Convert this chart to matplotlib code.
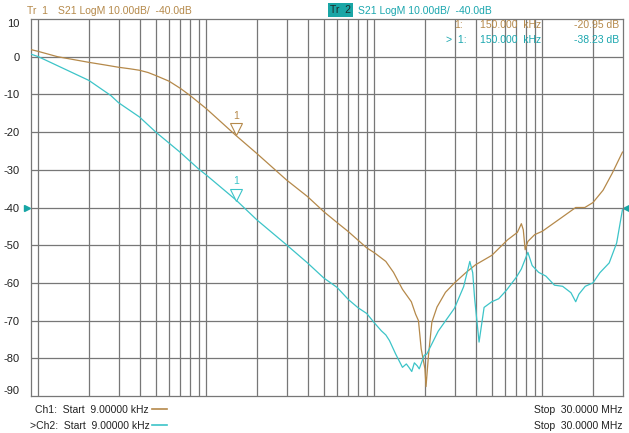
"""Nachbau einer VNA-Bildschirmkopie: S21 LogM, zwei Spuren."""

import matplotlib
matplotlib.use("Agg")
import matplotlib.pyplot as plt
import matplotlib.transforms as mtransforms

plt.rcParams["font.family"] = ["Liberation Sans", "DejaVu Sans"]

# Spur 1 (Tr1), Frequenz in Hz, Pegel in dB
tr1_freq = [9e3, 10e3, 13e3, 20e3, 25e3, 30e3, 35e3, 40e3, 45e3, 50e3, 60e3,
            70e3, 80e3, 100e3, 150e3, 200e3, 300e3, 400e3, 500e3, 600e3,
            700e3, 900e3, 1.0e6, 1.17e6, 1.3e6, 1.47e6, 1.66e6, 1.76e6,
            1.83e6, 1.9e6, 2.0e6, 2.03e6, 2.1e6, 2.2e6, 2.36e6, 2.65e6,
            3.0e6, 3.5e6, 4.0e6, 5.0e6, 6.2e6, 7.1e6, 7.5e6, 7.7e6, 7.9e6,
            8.2e6, 9.0e6, 10e6, 12.9e6, 15.8e6, 17.9e6, 20e6, 23e6, 26e6,
            30e6]
tr1_db = [1.9, 1.4, 0.0, -1.5, -2.2, -2.8, -3.2, -3.6, -4.2, -5.0, -6.5,
          -8.4, -10.3, -13.8, -20.9, -25.7, -32.7, -37.1, -41.1, -44.0,
          -46.4, -50.7, -52.0, -54.3, -57.2, -61.7, -65.0, -68.3,
          -70.0, -77.5, -82.8, -87.5, -79.2, -70.4, -66.4, -62.5,
          -60.0, -57.3, -55.2, -52.7, -48.6, -46.6, -44.3, -45.9, -51.2,
          -49.0, -47.2, -46.3, -42.8, -40.0, -40.0, -38.7, -35.4, -31.0,
          -25.3]

# Spur 2 (Tr2)
tr2_freq = [9e3, 10e3, 20e3, 27e3, 30e3, 40e3, 50e3, 70e3, 90e3, 100e3,
            150e3, 200e3, 300e3, 400e3, 500e3, 600e3, 700e3, 800e3, 900e3,
            1.0e6, 1.1e6, 1.17e6, 1.23e6, 1.34e6, 1.47e6, 1.55e6, 1.6e6,
            1.67e6, 1.73e6, 1.8e6, 1.85e6, 1.98e6, 2.05e6, 2.4e6, 3.0e6,
            3.4e6, 3.7e6, 3.85e6, 3.95e6, 4.2e6, 4.5e6, 5.0e6, 5.5e6, 6.1e6,
            7.0e6, 7.5e6, 8.2e6, 8.7e6, 9.5e6, 10.5e6, 11.8e6, 13.2e6,
            14.8e6, 15.8e6, 16.5e6, 18e6, 20e6, 22e6, 25e6, 27.7e6, 30e6]
tr2_db = [0.7, 0.0, -6.3, -10.3, -12.2, -16.0, -20.0, -25.4, -29.8, -31.4,
          -38.0, -43.3, -49.9, -54.7, -58.7, -61.2, -64.4, -66.6, -68.1,
          -70.6, -72.7, -73.8, -75.3, -78.9, -82.4, -81.5, -82.3,
          -83.5, -81.2, -82.0, -82.8, -79.2, -78.9, -72.8, -66.7,
          -61.0, -54.3, -57.3, -64.0, -75.7, -66.5, -65.0, -64.2, -62.0,
          -58.5, -56.3, -51.9, -55.4, -57.2, -58.2, -60.6, -60.9,
          -62.6, -65.0, -63.0, -60.9, -60.0, -57.3, -54.7, -49.4, -40.5]

# Marker 1 bei 150 kHz
marker_freq = 150e3
marker_db = [-20.95, -38.23]

y_ticks = [10, 0, -10, -20, -30, -40, -50, -60, -70, -80, -90]
ref_level = -40.0

C1 = "#b5894a"
C2 = "#3cc4c8"
C2_TEXT = "#1aa6ae"
GRID = "#777777"

W, H = 629, 433
fig = plt.figure(figsize=(W / 100, H / 100), dpi=100)
fig.patch.set_facecolor("white")
ax = fig.add_axes([30.7 / W, 1 - 396 / H, (622.5 - 30.7) / W, (396 - 19) / H])

ax.set_xscale("log")
ax.set_xlim(9e3, 30e6)
ax.set_ylim(-90, 10)

# Gitter: 1..9 je Dekade, 10 dB horizontal
grid_x = [m * 10 ** e for e in range(4, 8) for m in range(1, 10)]
grid_x = [g for g in grid_x if 9e3 < g < 30e6]
for g in grid_x:
    ax.axvline(g, color=GRID, lw=0.9, zorder=1)
for t in y_ticks[1:-1]:
    ax.axhline(t, color=GRID, lw=0.9, zorder=1)

ax.plot(tr1_freq, tr1_db, color=C1, lw=0.9, zorder=3)
ax.plot(tr2_freq, tr2_db, color=C2, lw=0.9, zorder=3)

# Markerdreiecke, Spitze auf dem Messpunkt
for val, col in zip(marker_db, [C1, C2]):
    off = mtransforms.offset_copy(ax.transData, fig=fig, y=4.5, units="points")
    ax.plot([marker_freq], [val], marker="v", markersize=8, mfc="white",
            mec=col, mew=0.8, transform=off, zorder=4)
    ax.annotate("1", (marker_freq, val), xytext=(0, 14), textcoords="offset points",
                ha="center", va="center", color=col, fontsize=7.5, zorder=4)

# Referenzpegel-Pfeile links und rechts
blend = mtransforms.blended_transform_factory(ax.transAxes, ax.transData)
ax.plot([-0.006], [ref_level], marker=">", markersize=5, color="#16a5a5",
        transform=blend, clip_on=False)
ax.plot([1.006], [ref_level], marker="<", markersize=5, color="#16a5a5",
        transform=blend, clip_on=False)

ax.set_xticks([])
ax.set_xticks([], minor=True)
ax.set_yticks(y_ticks)
ax.set_yticklabels([str(t) for t in y_ticks], fontsize=8, color="#222222")
ax.tick_params(axis="y", length=0, pad=8)
labels = ax.get_yticklabels()
labels[0].set_va("top")
labels[-1].set_va("bottom")
for s in ax.spines.values():
    s.set_color(GRID)
    s.set_linewidth(0.9)


def ftext(x, y, s, **kw):
    kw.setdefault("fontsize", 7.5)
    kw.setdefault("va", "center")
    fig.text(x / W, 1 - y / H, s, **kw)


# Kopfzeilen
ftext(27, 11, "Tr  1", color=C1)
ftext(58, 11, "S21 LogM 10.00dB/  -40.0dB", color=C1)
ftext(330, 10, "Tr  2", color="#1c2a2a",
      bbox=dict(boxstyle="square,pad=0.15", fc="#1aa6a6", ec="none"))
ftext(358, 11, "S21 LogM 10.00dB/  -40.0dB", color=C2_TEXT)

# Markertabelle
ftext(454, 25, "1:", color=C1)
ftext(480, 25, "150.000  kHz", color=C1)
ftext(619, 25, "-20.95 dB", color=C1, ha="right")
ftext(446, 40, ">  1:", color=C2_TEXT)
ftext(480, 40, "150.000  kHz", color=C2_TEXT)
ftext(619, 40, "-38.23 dB", color=C2_TEXT, ha="right")

# Fußzeilen
ftext(35, 410, "Ch1:  Start  9.00000 kHz", color="#222222")
ftext(30, 426, ">Ch2:  Start  9.00000 kHz", color="#222222")
ftext(622, 410, "Stop  30.0000 MHz", color="#222222", ha="right")
ftext(622, 426, "Stop  30.0000 MHz", color="#222222", ha="right")
fig.add_artist(plt.Line2D([152 / W, 167 / W], [1 - 409 / H] * 2, color=C1, lw=1.2))
fig.add_artist(plt.Line2D([152 / W, 167 / W], [1 - 425 / H] * 2, color=C2, lw=1.2))

fig.savefig("out.png", dpi=100, facecolor=fig.get_facecolor())
plt.close(fig)
